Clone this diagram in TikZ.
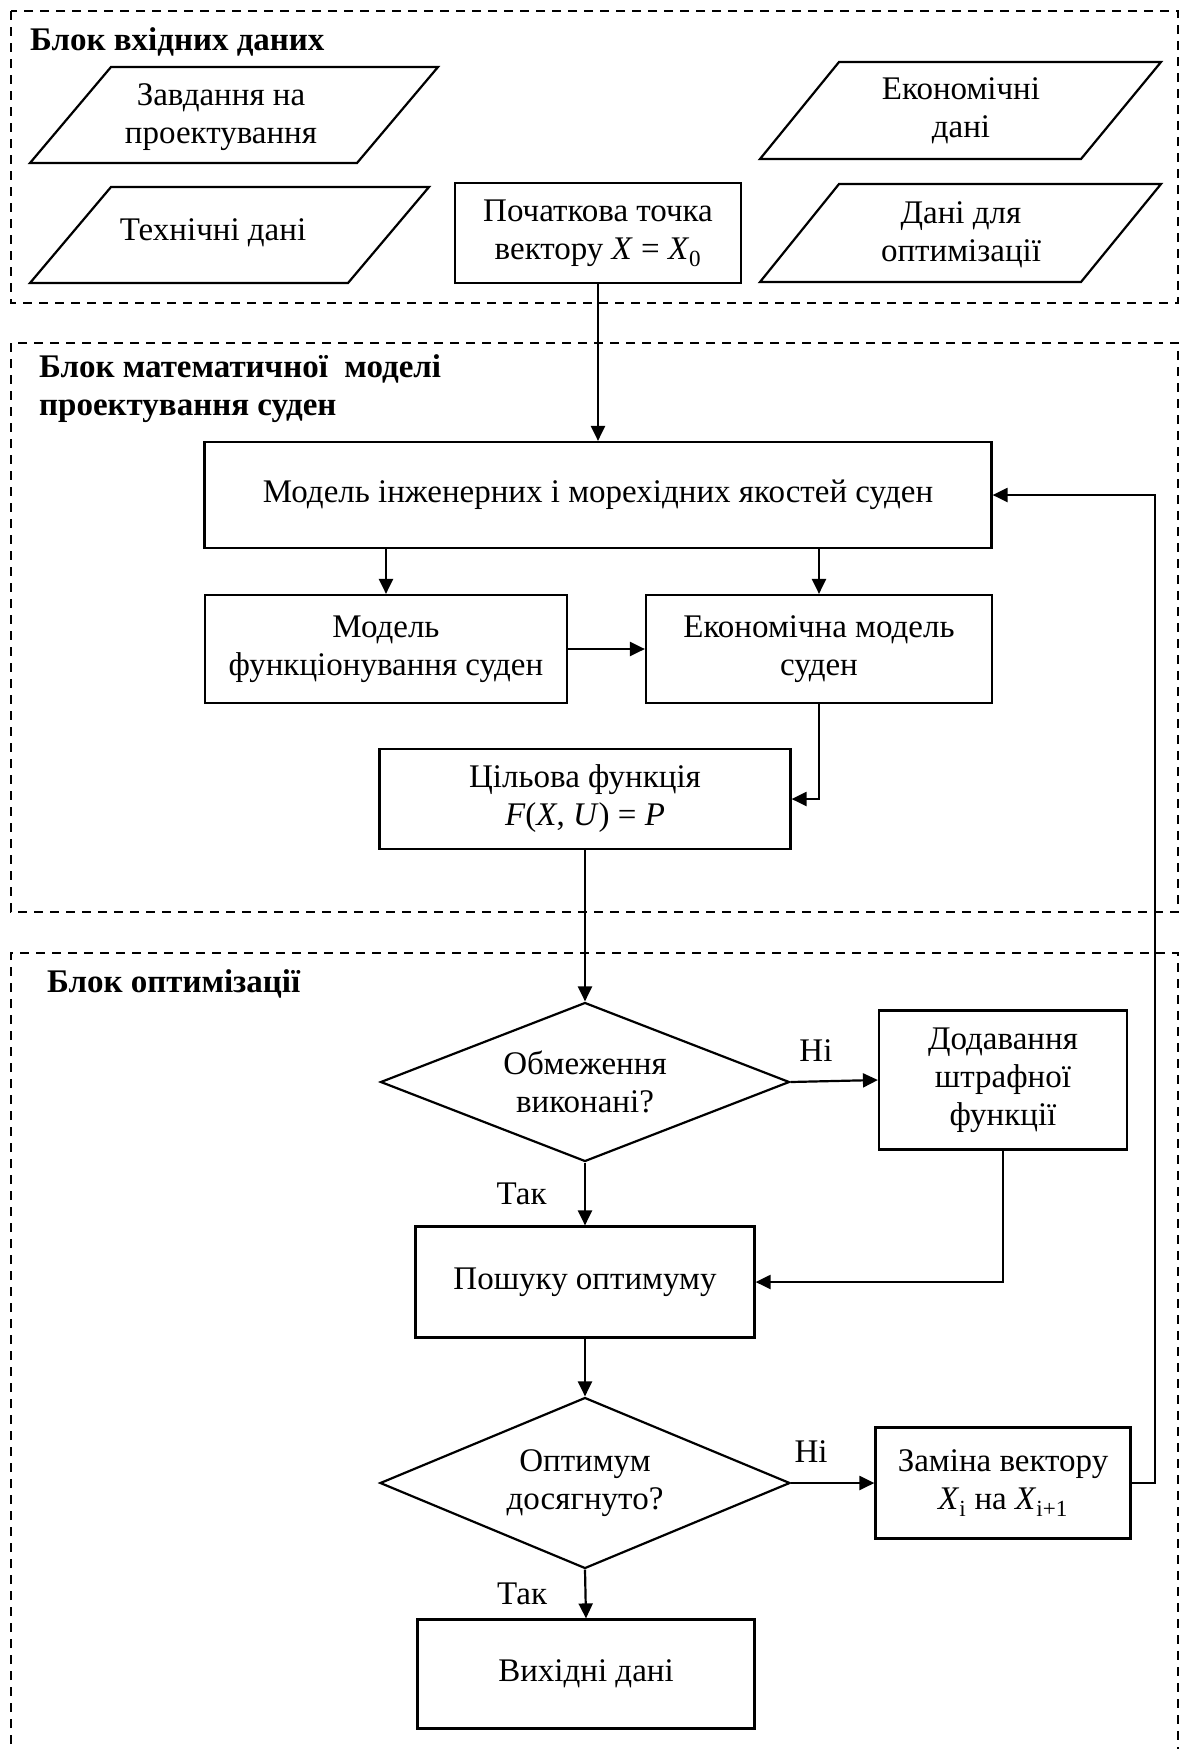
\documentclass[tikz,border=0pt]{standalone}
\usepackage{fontspec}
\setmainfont{Liberation Serif}
\usetikzlibrary{arrows.meta,shapes.geometric}

\begin{document}
\begin{tikzpicture}[x=1pt, y=-1pt,
    every node/.style={font=\fontsize{33}{38}\selectfont, align=center},
    block/.style={draw, line width=2.2pt, inner sep=0pt},
    decision/.style={draw, diamond, line width=2.2pt, inner sep=0pt, aspect=2.6},
    dataline/.style={line width=2.2pt},
    dashframe/.style={line width=2pt, dash pattern=on 9pt off 7pt},
    flow/.style={-{Triangle[length=15pt, width=14pt]}, line width=2.2pt},
    blocktitle/.style={font=\fontsize{33}{38}\selectfont\bfseries, anchor=west, align=left, inner sep=0pt}]
            \useasboundingbox (0,0) rectangle (1180,1749);

            % Frames
            \draw [dashframe] (11,11) rectangle (1178,303);
            \draw [dashframe] (11,343) rectangle (1178,912);
            \draw [dashframe] (11,1760) -- (11,953) -- (1178,953) -- (1178,1760);
            \node [blocktitle] (tin) at (30,42) {Блок вхідних даних};
            \node [blocktitle] (tmodel) at (39,389) {Блок математичної\ \ моделі\\проектування суден};
            \node [blocktitle] (topt) at (47,984) {Блок оптимізації};

            % Input data
            \draw [dataline] (30,163) -- (111,67) -- (438,67) -- (357,163) -- cycle;
            \node (task) at (221,117) {Завдання на\\проектування};
            \draw [dataline] (30,283) -- (111,187) -- (429,187) -- (348,283) -- cycle;
            \node (tech) at (213,233) {Технічні дані};
            \draw [dataline] (760,159) -- (839,62) -- (1161,62) -- (1081,159) -- cycle;
            \node (econdata) at (961,111) {Економічні\\дані};
            \draw [dataline] (760,282) -- (839,184) -- (1161,184) -- (1081,282) -- cycle;
            \node (optdata) at (961,235) {Дані для\\оптимізації};
            \node [block, minimum width=286pt, minimum height=100pt] (start) at (598,233)
                {Початкова точка\\вектору \textit{X} = \textit{X}\textsubscript{0}};

            % Model blocks
            \node [block, minimum width=787pt, minimum height=106pt] (model) at (598,495)
                {Модель інженерних і морехідних якостей суден};
            \node [block, minimum width=362pt, minimum height=108pt] (func) at (386,649)
                {Модель\\функціонування суден};
            \node [block, minimum width=346pt, minimum height=108pt] (econ) at (819,649)
                {Економічна модель\\суден};
            \node [block, minimum width=411pt, minimum height=100pt] (goal) at (585,799)
                {Цільова функція\\\textit{F}(\textit{X}, \textit{U}) = \textit{P}};

            % Optimisation blocks
            \node [decision, minimum width=409pt, minimum height=159pt] (check) at (585,1082)
                {Обмеження\\виконані?};
            \node [block, minimum width=248pt, minimum height=139pt] (penalty) at (1003,1080)
                {Додавання\\штрафної\\функції};
            \node [block, minimum width=339pt, minimum height=111pt] (search) at (585,1282)
                {Пошуку оптимуму};
            \node [decision, minimum width=410pt, minimum height=171pt] (reached) at (585,1483)
                {Оптимум\\досягнуто?};
            \node [block, minimum width=255pt, minimum height=111pt] (change) at (1003,1483)
                {Заміна вектору\\\textit{X}\textsubscript{i} на \textit{X}\textsubscript{i+1}};
            \node [block, minimum width=337pt, minimum height=109pt] (out) at (586,1674)
                {Вихідні дані};

            % Connectors
            \draw [flow] (start.south) -- (model.north);
            \draw [flow] (model.south -| func.north) -- (func.north);
            \draw [flow] (model.south -| econ.north) -- (econ.north);
            \draw [flow] (func) -- (econ);
            \draw [flow] (econ.south) |- (goal.east);
            \draw [flow] (goal.south) -- (check.north);
            \draw [flow] (check.east) -- (penalty.west) node[pos=0.29, above=16pt] (no1) {Ні};
            \draw [flow] (check.south) -- (search.north) node[midway, left=34pt] (yes1) {Так};
            \draw [flow] (penalty.south) |- (search.east);
            \draw [flow] (search.south) -- (reached.north);
            \draw [flow] (reached.east) -- (change.west) node[pos=0.24, above=16pt] (no2) {Ні};
            \draw [flow] (reached.south) -- (out.north) node[midway, left=34pt] (yes2) {Так};
            \draw [flow] (change.east) -- ++(23,0) |- (model.east);
        \end{tikzpicture}
\end{document}
